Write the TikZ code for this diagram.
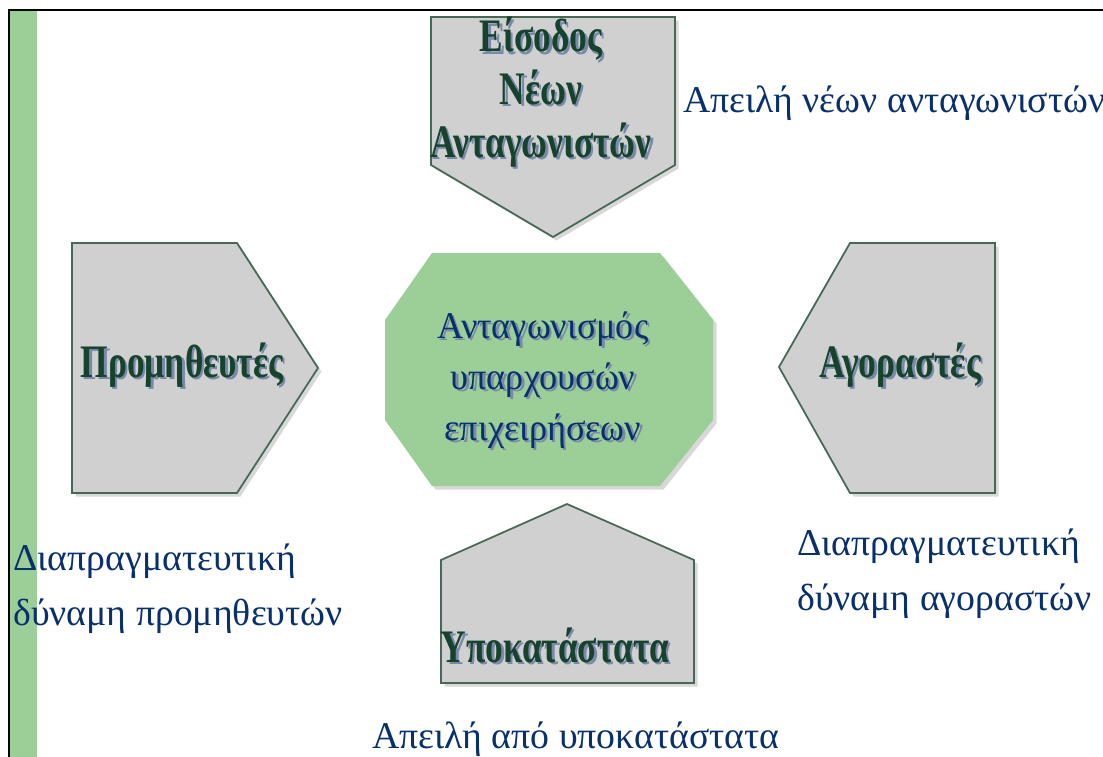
\documentclass[tikz,border=0pt]{standalone}
\usepackage{fontspec}
\setmainfont{Liberation Serif}
\newfontfamily\forcefont[FakeStretch=0.76]{Liberation Serif}
\newfontfamily\corefont[FakeStretch=0.96]{Liberation Serif}
\usetikzlibrary{shadows}
\definecolor{pgreen}{RGB}{156,206,152}
\definecolor{pgrey}{RGB}{208,208,208}
\definecolor{pedge}{RGB}{72,104,86}
\definecolor{pdark}{RGB}{22,66,46}
\definecolor{pnavy}{RGB}{8,48,108}
\definecolor{pshade}{RGB}{120,138,168}
\newcommand\shd[1]{\makebox[0pt][l]{\hspace{1.4pt}\raisebox{-1.4pt}{\color{pshade}#1}}#1}

\begin{document}
\begin{tikzpicture}[x=0.02cm,y=-0.02cm,
  force/.style={fill=pgrey,draw=pedge,line width=1pt,
    drop shadow={shadow xshift=2pt,shadow yshift=-2pt,fill=black!30}},
  core/.style={fill=pgreen,drop shadow={shadow xshift=2pt,shadow yshift=-2pt,fill=black!30}},
  forcetext/.style={text=pdark,font=\forcefont\fontsize{26.5}{30}\selectfont\bfseries,
    align=center,inner sep=0pt,anchor=base},
  coretext/.style={text=pnavy,font=\corefont\fontsize{21.5}{29}\selectfont,
    align=center,inner sep=0pt,anchor=base},
  threat/.style={text=pnavy,font=\fontsize{21.5}{31}\selectfont,align=left,inner sep=0pt,anchor=base west}]
  \useasboundingbox (0,0) rectangle (1103,757);
  % frame
  \fill[pgreen] (10,11) rectangle (37,757);
  \draw[line width=1.2pt] (9,757) -- (9,10) -- (1103,10);
  % the five forces
  \path[force] (431,17) -- (675,17) -- (675,165) -- (553,237) -- (431,165) -- cycle;
  \path[force] (72,243) -- (237,243) -- (318,368) -- (237,493) -- (72,493) -- cycle;
  \path[force] (850,243) -- (995,243) -- (995,493) -- (850,493) -- (779,367) -- cycle;
  \path[force] (441,560) -- (567,504) -- (694,560) -- (694,683) -- (441,683) -- cycle;
  \path[core] (432,253) -- (660,253) -- (713,320) -- (713,420) -- (660,486) -- (432,486)
    -- (385,420) -- (385,320) -- cycle;
  % base of a multi-line node is its last line
  \node[forcetext] (entry) at (541,157) {\shd{Είσοδος}\\\shd{Νέων}\\\shd{Ανταγωνιστών}};
  \node[forcetext] (supply) at (182,377) {\shd{Προμηθευτές}};
  \node[forcetext] (buyer) at (900,377) {\shd{Αγοραστές}};
  \node[forcetext] (subst) at (555,662) {\shd{Υποκατάστατα}};
  \node[coretext] (rivalry) at (543,440)
    {\shd{Ανταγωνισμός}\\\shd{υπαρχουσών}\\\shd{επιχειρήσεων}};
  % threats
  \node[threat] (newthreat) at (683,113) {Απειλή νέων ανταγωνιστών};
  \node[threat] (supplypow) at (13,625) {Διαπραγματευτική\\δύναμη προμηθευτών};
  \node[threat] (buyerpow) at (797,610) {Διαπραγματευτική\\δύναμη αγοραστών};
  \node[threat] (substhreat) at (372,748) {Απειλή από υποκατάστατα};
\end{tikzpicture}
\end{document}
